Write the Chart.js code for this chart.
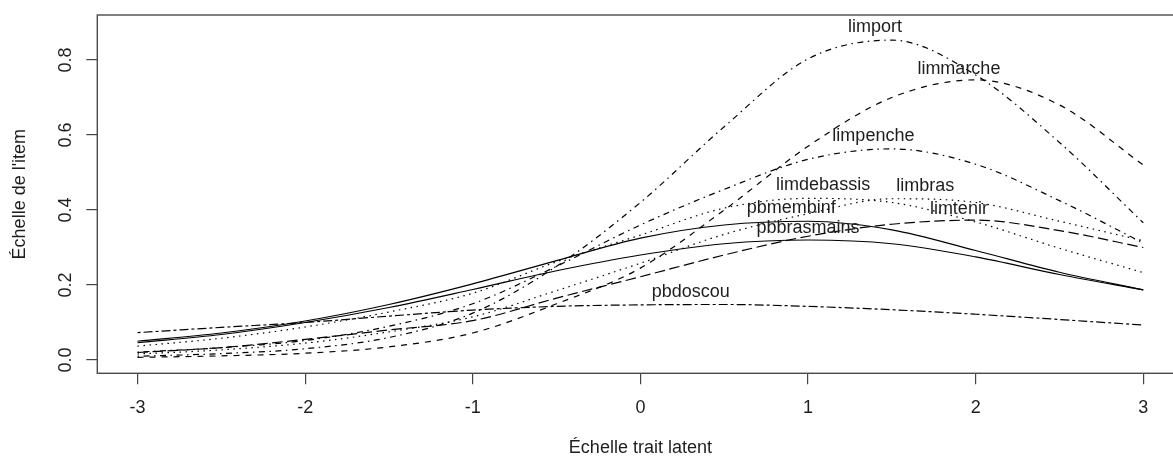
<!DOCTYPE html>
<html>
<head>
<meta charset="utf-8">
<script src="https://cdn.jsdelivr.net/npm/chart.js@4.4.0/dist/chart.umd.min.js"></script>
<style>
  html, body { margin: 0; padding: 0; background: #fff; overflow: hidden; }
  #wrap { width: 1200px; height: 459px; }
</style>
</head>
<body>
<div id="wrap"><canvas id="chart" width="1200" height="459"></canvas></div>
<script>
// Latent trait grid (x)
const theta = [-3, -2.5, -2, -1.5, -1, -0.5, 0, 0.5, 1, 1.5, 2, 2.5, 3];

// Item information curves
const limport     = [0.010, 0.017, 0.030, 0.060, 0.125, 0.250, 0.420, 0.622, 0.803, 0.853, 0.760, 0.580, 0.366];
const limmarche   = [0.007, 0.011, 0.018, 0.035, 0.072, 0.150, 0.245, 0.400, 0.570, 0.700, 0.747, 0.680, 0.520];
const limpenche   = [0.021, 0.033, 0.052, 0.090, 0.150, 0.250, 0.360, 0.455, 0.535, 0.563, 0.522, 0.425, 0.312];
const limdebassis = [0.037, 0.058, 0.088, 0.128, 0.178, 0.262, 0.333, 0.405, 0.431, 0.420, 0.368, 0.298, 0.233];
const limbras     = [0.016, 0.027, 0.045, 0.075, 0.115, 0.185, 0.258, 0.335, 0.390, 0.430, 0.420, 0.370, 0.318];
const limtenir    = [0.020, 0.033, 0.055, 0.080, 0.105, 0.165, 0.222, 0.280, 0.330, 0.362, 0.373, 0.345, 0.300];
const pbmembinf   = [0.050, 0.072, 0.104, 0.148, 0.203, 0.265, 0.325, 0.360, 0.370, 0.347, 0.292, 0.234, 0.187];
const pbbrasmains = [0.046, 0.068, 0.100, 0.140, 0.188, 0.238, 0.280, 0.310, 0.320, 0.310, 0.275, 0.228, 0.187];
const pbdoscou    = [0.073, 0.087, 0.100, 0.117, 0.133, 0.143, 0.147, 0.148, 0.143, 0.134, 0.122, 0.108, 0.093];

// Item names and where their label sits (peak of each curve)
const itemNames = ['limport', 'limmarche', 'limpenche', 'limdebassis', 'limbras', 'limtenir', 'pbmembinf', 'pbbrasmains', 'pbdoscou'];
const labelX = [1.40, 1.90, 1.39, 1.09, 1.70, 1.90, 0.90, 1.00, 0.30];
const labelY = [0.852, 0.742, 0.562, 0.432, 0.430, 0.369, 0.370, 0.318, 0.146];

// Axis ticks
const xTicks = [-3, -2, -1, 0, 1, 2, 3];
const yTicks = [0, 0.2, 0.4, 0.6, 0.8];

// R line types
const lty = {
  solid: [],
  dashed: [6, 6],
  dotted: [1.5, 4.5],
  dotdash: [1.5, 4.5, 6, 4.5],
  longdash: [10.5, 4.5],
  twodash: [3, 3, 9, 3],
};

const curves = [
  [limport, lty.dotdash],
  [limmarche, lty.dashed],
  [limpenche, lty.dotdash],
  [limdebassis, lty.dotted],
  [limbras, lty.dotted],
  [limtenir, lty.longdash],
  [pbmembinf, lty.solid],
  [pbbrasmains, lty.solid],
  [pbdoscou, lty.twodash],
];

const FONT = "'Liberation Sans', Arial, Helvetica, sans-serif";
Chart.defaults.font.family = FONT;
Chart.defaults.font.size = 18;
Chart.defaults.color = '#1e1e1e';

// box round the plot, rotated y labels and item names
const rPlot = {
  id: 'rPlot',
  afterDraw(chart) {
    const { ctx, chartArea: a, scales: { x, y } } = chart;
    ctx.save();
    ctx.strokeStyle = '#4a4a4a';
    ctx.lineWidth = 1.4;
    ctx.strokeRect(a.left, a.top, a.right - a.left, a.bottom - a.top);

    ctx.fillStyle = '#1e1e1e';
    ctx.font = '18px ' + FONT;
    ctx.textAlign = 'center';
    ctx.textBaseline = 'middle';
    yTicks.forEach((v) => {
      ctx.save();
      ctx.translate(66, y.getPixelForValue(v));
      ctx.rotate(-Math.PI / 2);
      ctx.fillText(v.toFixed(1), 0, 0);
      ctx.restore();
    });

    itemNames.forEach((name, i) => {
      ctx.fillText(name, x.getPixelForValue(labelX[i]), y.getPixelForValue(labelY[i]) - 13);
    });
    ctx.restore();
  },
};

new Chart(document.getElementById('chart'), {
  type: 'line',
  data: {
    datasets: curves.map(([values, dash], i) => ({
      label: itemNames[i],
      data: theta.map((t, j) => ({ x: t, y: values[j] })),
      borderColor: '#000',
      borderWidth: 1.2,
      borderDash: dash,
      pointRadius: 0,
      cubicInterpolationMode: 'monotone',
      fill: false,
    })),
  },
  options: {
    responsive: false,
    animation: false,
    layout: { padding: { top: 15, right: 16.5, left: 0, bottom: 0 } },
    scales: {
      x: {
        type: 'linear',
        min: -3.24,
        max: 3.24,
        afterBuildTicks: (s) => { s.ticks = xTicks.map((v) => ({ value: v })); },
        afterFit: (s) => { s.height = 85.7; },
        grid: { drawOnChartArea: false, tickLength: 11, color: '#444', lineWidth: 1.2 },
        border: { display: false },
        ticks: { padding: 13, color: '#1e1e1e', callback: (v) => String(v) },
        title: { display: true, text: 'Échelle trait latent', padding: { top: 0, bottom: 0 } },
      },
      y: {
        type: 'linear',
        min: -0.0355,
        max: 0.92,
        afterBuildTicks: (s) => { s.ticks = yTicks.map((v) => ({ value: v })); },
        afterFit: (s) => { s.width = 97.3; },
        grid: { drawOnChartArea: false, tickLength: 11, color: '#444', lineWidth: 1.2 },
        border: { display: false },
        ticks: { display: false },
        title: { display: true, text: "Échelle de l'item", padding: { top: 9, bottom: 0 } },
      },
    },
    plugins: {
      legend: { display: false },
      tooltip: { enabled: false },
    },
  },
  plugins: [rPlot],
});
</script>
</body>
</html>
